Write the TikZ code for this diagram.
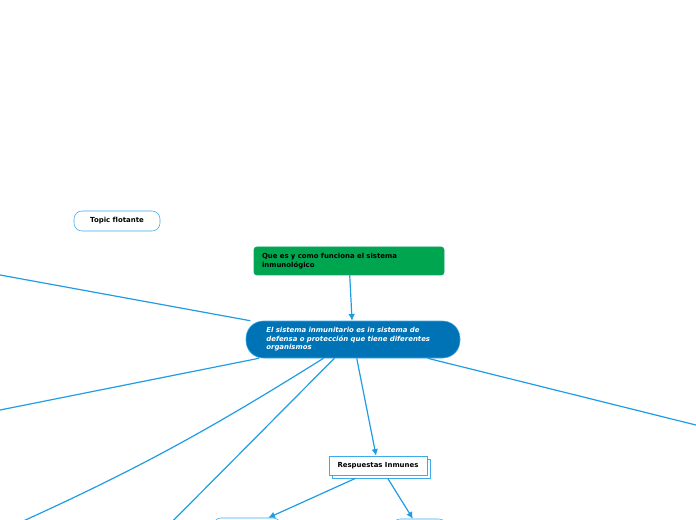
\documentclass[tikz,border=0pt]{standalone}
\usepackage{fontspec}
\usepackage{xcolor}
\usetikzlibrary{arrows.meta,positioning}
\newfontfamily\mapfont[Ligatures=NoCommon]{DejaVu Sans}
\definecolor{mapblue}{RGB}{0, 115, 182}
\definecolor{mapgreen}{RGB}{0, 165, 80}
\definecolor{linkblue}{RGB}{32, 156, 226}
\definecolor{rimblue}{RGB}{60, 170, 235}

\begin{document}
\begin{tikzpicture}[
    x=0.75pt, y=-0.75pt,
    central/.style={
      rectangle,
      rounded corners=13pt,
      draw=rimblue,
      fill=mapblue,
      text=white,
      minimum width=160.5pt,
      minimum height=27.75pt,
      inner sep=0pt,
      text width=130pt,
      align=left,
      font=\mapfont\fontsize{5.2}{6.4}\selectfont\bfseries\itshape
    },
    maintopic/.style={
      rectangle,
      rounded corners=2pt,
      draw=mapgreen!80!rimblue,
      fill=mapgreen,
      minimum width=142.5pt,
      minimum height=21pt,
      inner sep=0pt,
      text width=130.5pt,
      align=left,
      font=\mapfont\fontsize{5.2}{6.7}\selectfont\bfseries
    },
    floating/.style={
      rectangle,
      rounded corners=6pt,
      draw=rimblue,
      fill=white,
      minimum width=64.5pt,
      minimum height=15pt,
      inner sep=0pt,
      font=\mapfont\fontsize{5.2}{6}\selectfont\bfseries
    },
    subtopic/.style={
      rectangle,
      draw=rimblue,
      fill=white,
      minimum width=73.5pt,
      minimum height=14.25pt,
      inner sep=0pt,
      font=\mapfont\fontsize{5.2}{6}\selectfont\bfseries
    },
    leaf/.style={
      rectangle,
      rounded corners=6pt,
      draw=rimblue,
      fill=white,
      minimum height=15pt,
      inner sep=0pt
    },
    link/.style={linkblue, line width=0.9pt},
    arrow/.style={-{Latex[length=5pt,width=5pt]}, linkblue, line width=0.9pt}
  ]
    \useasboundingbox (0,0) rectangle (696,520);
    \clip (0,0) rectangle (696,520);

    \node[central] (sys) at (353,339.5) {El sistema inmunitario es in sistema de\\defensa o protección que tiene diferentes\\organismos};
    \node[maintopic] (que) at (349,261) {Que es y como funciona el sistema\\inmunológico};
    \node[floating] (float) at (117,221) {Topic flotante};

    % respuestas, with its shadow copy
    \node[subtopic] (shadow) at (381,468.5) {};
    \node[subtopic] (resp) at (378,465.5) {Respuestas Inmunes};

    \node[leaf, minimum width=51pt] (innata) at (247,528) {};
    \node[leaf, minimum width=41pt] (adapt) at (419.5,529) {};

    % free ends outside the page
    \coordinate (out1) at (-30,269.5);
    \coordinate (out2) at (-30,416);
    \coordinate (out3) at (-10,536);
    \coordinate (out4) at (150,544);
    \coordinate (out5) at (730,433.5);

    \draw[arrow] (que) -- (sys);
    \draw[link] (sys) -- (out1);
    \draw[link] (sys) -- (out2);
    \draw[link] (sys) to[bend left=4] (out3);
    \draw[link] (sys) -- (out4);
    \draw[link] ([xshift=56pt]sys.south) -- (out5);
    \draw[arrow] (sys) -- (resp);
    \draw[arrow] ([xshift=-19pt]shadow.south) -- ([xshift=16pt]innata.north);
    \draw[arrow] ([xshift=5pt]shadow.south) -- ([xshift=-5pt]adapt.north);
  \end{tikzpicture}
\end{document}
